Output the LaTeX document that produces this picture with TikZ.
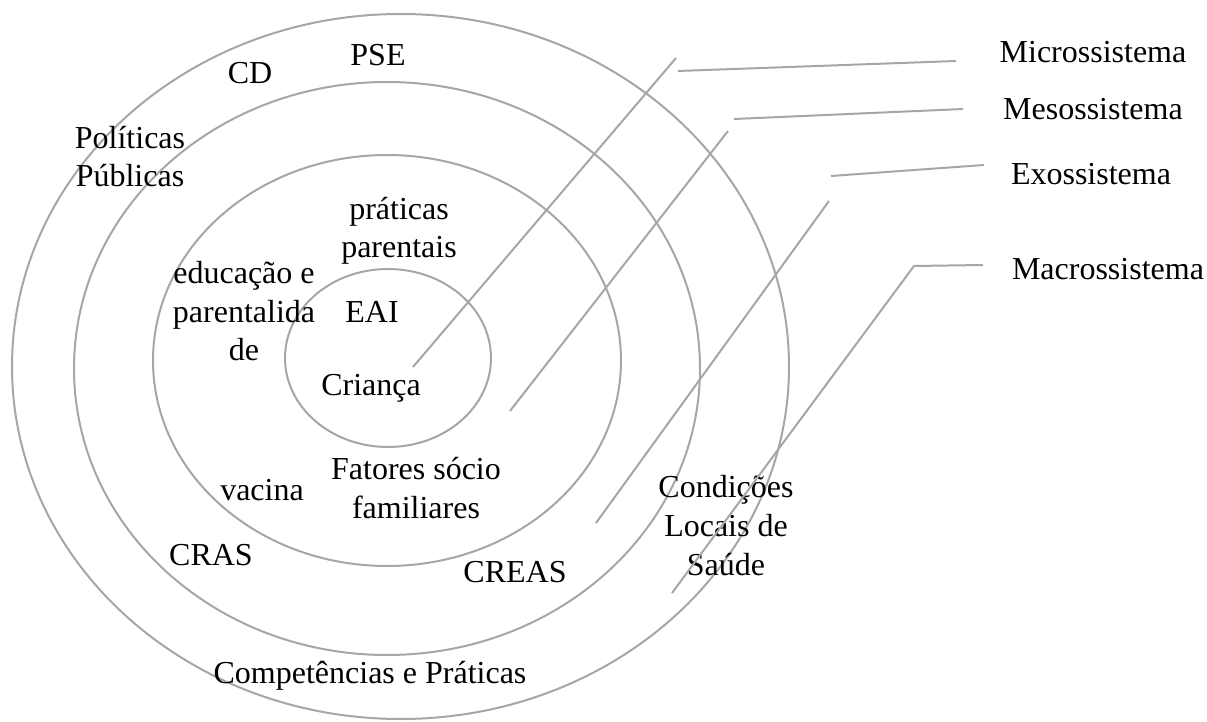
\documentclass[tikz,border=0pt]{standalone}
\usepackage{fontspec}
\setmainfont{Liberation Serif}
\begin{document}
\begin{tikzpicture}[x=0.5pt,y=-0.5pt,
  ring/.style={draw=gray!70, line width=1pt},
  lead/.style={draw=gray!70, line width=1pt},
  lbl/.style={font=\fontsize{16}{19.3}\selectfont, inner sep=0pt, align=center, anchor=base}]
\useasboundingbox (0,0) rectangle (1207,722);
% rings
\draw[ring] (400.5,366.5) ellipse [x radius=194.25pt, y radius=176.25pt];
\draw[ring] (387,368.5) ellipse [x radius=156.5pt, y radius=143.25pt];
\draw[ring] (387,360.5) ellipse [x radius=117pt, y radius=102.75pt];
\draw[ring] (388,358) ellipse [x radius=51.5pt, y radius=44.5pt];
% labels inside rings (multi-line: anchored at last baseline)
\node[lbl] (cd) at (250,84) {CD};
\node[lbl] (pse) at (378,66) {PSE};
\node[lbl] (pol) at (130,187) {Políticas\\Públicas};
\node[lbl] (prat) at (399,258) {práticas\\parentais};
\node[lbl] (edu) at (244,361) {educação e\\parentalida\\de};
\node[lbl] (eai) at (372,322) {EAI};
\node[lbl] (crianca) at (371,395) {Criança};
\node[lbl] (fat) at (416,518) {Fatores sócio\\familiares};
\node[lbl] (vac) at (262,500) {vacina};
\node[lbl] (cras) at (211,565) {CRAS};
\node[lbl] (creas) at (515,582) {CREAS};
\node[lbl] (cond) at (726,575) {Condições\\Locais de\\Saúde};
\node[lbl] (comp) at (370,683) {Competências e Práticas};
% system labels
\node[lbl] (micro) at (1093,63) {Microssistema};
\node[lbl] (meso) at (1093,120) {Mesossistema};
\node[lbl] (exo) at (1091,185) {Exossistema};
\node[lbl] (macro) at (1108,280) {Macrossistema};
% leader lines
\coordinate (a1) at (413,367); \coordinate (b1) at (676,58);
\coordinate (c1) at (678,71); \coordinate (d1) at (956,61);
\coordinate (a2) at (510,411); \coordinate (b2) at (728,131);
\coordinate (c2) at (734,119); \coordinate (d2) at (963,109);
\coordinate (a3) at (596,523); \coordinate (b3) at (829,201);
\coordinate (c3) at (831,176); \coordinate (d3) at (984,165);
\coordinate (a4) at (672,593); \coordinate (b4) at (914,266);
\coordinate (d4) at (983,265);
\draw[lead] (a1) -- (b1); \draw[lead] (c1) -- (d1);
\draw[lead] (a2) -- (b2); \draw[lead] (c2) -- (d2);
\draw[lead] (a3) -- (b3); \draw[lead] (c3) -- (d3);
\draw[lead] (a4) -- (b4) -- (d4);
\end{tikzpicture}
\end{document}
